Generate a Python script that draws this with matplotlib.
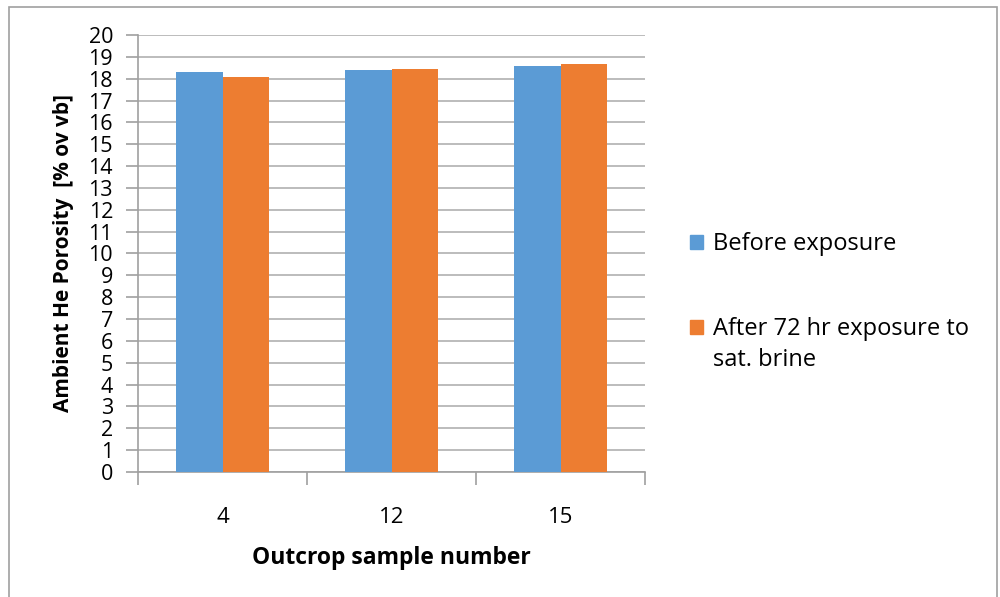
import matplotlib.pyplot as plt
from matplotlib.patches import Patch, Rectangle
import numpy as np

# sample numbers and porosity values (% of bulk volume)
samples = ["4", "12", "15"]
before = [18.30, 18.38, 18.57]
after = [18.07, 18.46, 18.69]
series_names = ["Before exposure", "After 72 hr exposure to"]
name_wrap = "sat. brine"  # second line of the orange series name
colors = ["#5B9BD5", "#ED7D31"]

plt.rcParams['font.family'] = ['Open Sans', 'DejaVu Sans']

fig = plt.figure(figsize=(10, 5.97), dpi=100)
ax = fig.add_axes([0.138, 0.2094, 0.507, 0.732])

# outer chart frame
fig.patches.append(Rectangle((0.009, -0.05), 0.988, 1.038, transform=fig.transFigure,
                             fill=False, edgecolor="#a0a0a0", linewidth=1.2))

x = np.arange(len(samples))
w = 0.278
ax.bar(x - w / 2, before, w, color=colors[0], zorder=3)
ax.bar(x + w / 2, after, w, color=colors[1], zorder=3)

ax.set_xlim(-0.5, len(samples) - 0.5)
ax.set_ylim(0, 20)
ax.set_yticks(range(0, 21))
ax.grid(axis="y", color="#b0b0b0", linewidth=1.2, zorder=0)

ax.set_xticks(x)
ax.set_xticklabels(samples)
ax.set_xticks(np.arange(-0.5, len(samples), 1), minor=True)
ax.tick_params(axis="x", which="major", length=0, pad=25, labelsize=16)
ax.tick_params(axis="x", which="minor", length=9, width=1.2, color="#a0a0a0")
ax.tick_params(axis="y", length=9, width=1.2, color="#a0a0a0", pad=9, labelsize=15.5)

for side in ["top", "right"]:
    ax.spines[side].set_visible(False)
for side in ["left", "bottom"]:
    ax.spines[side].set_color("#a0a0a0")
    ax.spines[side].set_linewidth(1.2)

ax.set_xlabel("Outcrop sample number", fontsize=16.5, fontweight="bold", labelpad=13)
ax.set_ylabel("Ambient He Porosity  [% ov vb]", fontsize=15, fontweight="bold", labelpad=10)

handles = [Patch(color=c) for c in colors]
leg = fig.legend(handles, series_names, loc="upper left", bbox_to_anchor=(0.669, 0.647),
                 frameon=False, fontsize=17, handlelength=0.55, handleheight=0.55,
                 handletextpad=0.4, labelspacing=2.6)

# wrapped second line sits under the orange entry, handle stays on the first line
fig.canvas.draw()
bb = leg.get_texts()[1].get_window_extent()
W, H = fig.bbox.width, fig.bbox.height
fig.text(bb.x0 / W, (bb.y0 - 31) / H, name_wrap, fontsize=17, ha="left", va="bottom")

fig.savefig("out.png", dpi=100)
